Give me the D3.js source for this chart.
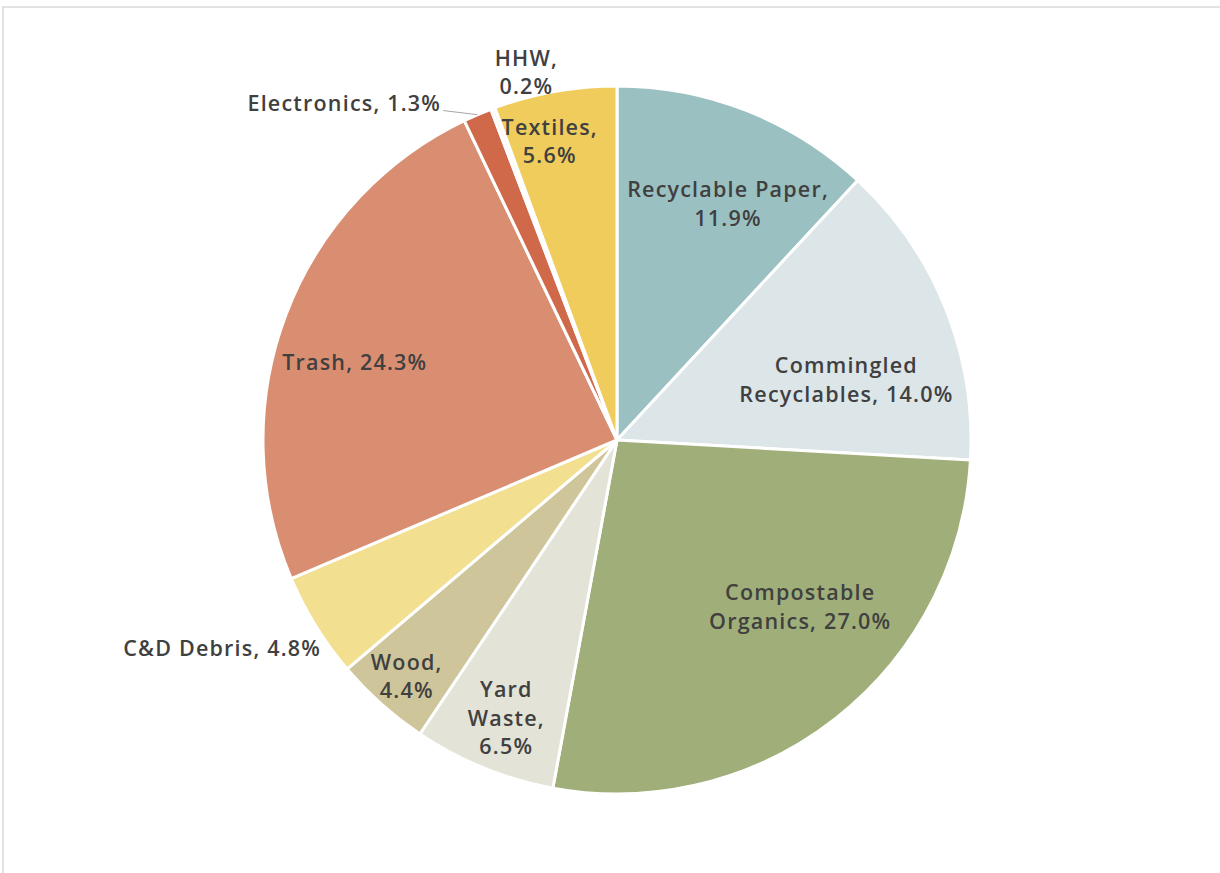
<!DOCTYPE html>
<html>
<head>
<meta charset="utf-8">
<script src="https://cdn.jsdelivr.net/npm/d3@7"></script>
<style>
  body { margin: 0; background: #fff; }
  .slice-label { font-family: "Open Sans", sans-serif; font-weight: 600; font-size: 21.5px; letter-spacing: 1.2px; fill: #404040; }
</style>
</head>
<body>
<div id="pieChart" style="width:1220px;height:873px;"></div>
<script>
// data
const categories = ["Recyclable Paper", "Commingled Recyclables", "Compostable Organics", "Yard Waste",
                    "Wood", "C&D Debris", "Trash", "Electronics", "HHW", "Textiles"];
const shares = [11.9, 14.0, 27.0, 6.5, 4.4, 4.8, 24.3, 1.3, 0.2, 5.6];
// label lines as they wrap in the picture
const labelLines = [
  ["Recyclable Paper,", "11.9%"],
  ["Commingled", "Recyclables, 14.0%"],
  ["Compostable", "Organics, 27.0%"],
  ["Yard", "Waste,", "6.5%"],
  ["Wood,", "4.4%"],
  ["C&D Debris, 4.8%"],
  ["Trash, 24.3%"],
  ["Electronics, 1.3%"],
  ["HHW,", "0.2%"],
  ["Textiles,", "5.6%"]
];

const colorArray = ["#9bc0c2", "#dce5e8", "#a0af7a", "#e3e3d7", "#cfc59a",
                    "#f2df90", "#d98e72", "#d0694a", "#fbf8ee", "#efcc5c"];

// size of the box
const width_pie = 1220, height_pie = 873;
const cx = 617, cy = 440, radius = 354;

const svg = d3.select("#pieChart")
  .append("svg")
    .attr("width", width_pie)
    .attr("height", height_pie);

// light frame, open on the right and bottom
svg.append("rect")
  .attr("x", 3).attr("y", 7)
  .attr("width", width_pie + 10).attr("height", height_pie + 10)
  .attr("fill", "none")
  .attr("stroke", "#d9d9d9")
  .attr("stroke-width", 1.5);

const g = svg.append("g").attr("transform", `translate(${cx},${cy})`);

const table = categories.map((c, i) => ({ name: c, value: shares[i], lines: labelLines[i] }));

const pie = d3.pie().sort(null).value(d => d.value);
const arcs = pie(table);

const colorScale = d3.scaleOrdinal().domain(categories).range(colorArray);

const arc = d3.arc().innerRadius(0).outerRadius(radius);
const labelArc = d3.arc().innerRadius(radius * 0.65).outerRadius(radius * 0.65);
const edgeArc = d3.arc().innerRadius(radius).outerRadius(radius);

// slices
g.selectAll("path.slice")
  .data(arcs)
  .enter()
  .append("path")
    .attr("class", "slice")
    .attr("d", arc)
    .attr("fill", d => colorScale(d.data.name))
    .attr("stroke", "#fff")
    .attr("stroke-width", 3)
    .attr("stroke-linejoin", "round");

// nudges from the label centroid to where the picture puts each label
const nudge = {
  "Recyclable Paper": [27, -22],
  "Commingled Recyclables": [16, 26],
  "Compostable Organics": [41, -14],
  "Yard Waste": [-24, 65],
  "Wood": [-57, 65],
  "C&D Debris": [-199, 88],
  "Trash": [-47, 4],
  "Electronics": [-182, -125],
  "HHW": [-10, -152],
  "Textiles": [-27, -72]
};

const lineH = 28.5;

// leader line for Electronics
const elec = arcs.find(d => d.data.name === "Electronics");
const ep = edgeArc.centroid(elec);
const ec = labelArc.centroid(elec);
g.append("polyline")
  .attr("points", [[ep[0], ep[1]], [ec[0] + nudge.Electronics[0] + 99, ec[1] + nudge.Electronics[1] + 7]].map(p => p.join(",")).join(" "))
  .attr("fill", "none")
  .attr("stroke", "#a6a6a6")
  .attr("stroke-width", 1);

// labels
const labels = g.selectAll("text.slice-label")
  .data(arcs)
  .enter()
  .append("text")
    .attr("class", "slice-label")
    .attr("text-anchor", "middle")
    .attr("transform", d => {
      const c = labelArc.centroid(d);
      const n = nudge[d.data.name];
      return `translate(${c[0] + n[0]},${c[1] + n[1]})`;
    });

labels.each(function(d) {
  const lines = d.data.lines;
  const top = -(lines.length - 1) * lineH / 2;
  d3.select(this).selectAll("tspan")
    .data(lines)
    .enter()
    .append("tspan")
      .attr("x", 0)
      .attr("y", (l, i) => top + i * lineH)
      .attr("dy", "0.35em")
      .text(l => l);
});
</script>
</body>
</html>
